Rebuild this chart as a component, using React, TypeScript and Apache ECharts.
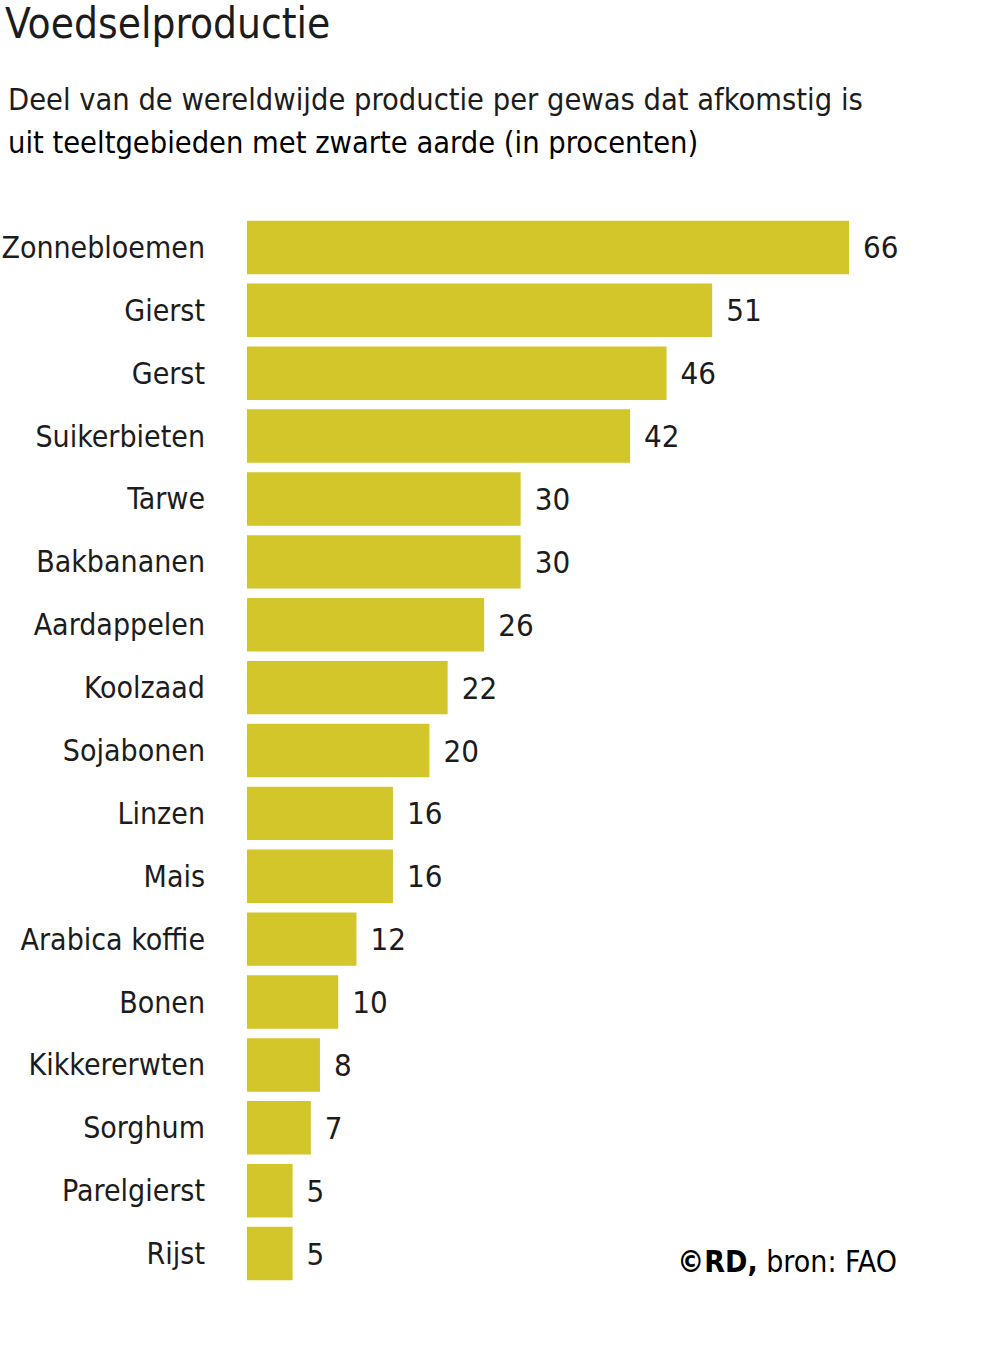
import React, { useEffect, useRef } from "react";
import * as echarts from "echarts";

const categories = [
  "Zonnebloemen", "Gierst", "Gerst", "Suikerbieten", "Tarwe", "Bakbananen",
  "Aardappelen", "Koolzaad", "Sojabonen", "Linzen", "Mais", "Arabica koffie",
  "Bonen", "Kikkererwten", "Sorghum", "Parelgierst", "Rijst",
];
const values = [66, 51, 46, 42, 30, 30, 26, 22, 20, 16, 16, 12, 10, 8, 7, 5, 5];

const titleText = "Voedselproductie";
const subtitle1 = "Deel van de wereldwijde productie per gewas dat afkomstig is";
const subtitle2 = "uit teeltgebieden met zwarte aarde";
const subtitleUnit = "(in procenten)";
const sourceBold = "©RD,";
const sourceText = " bron: FAO";

const FONT = "'DejaVu Sans Condensed', 'Liberation Sans Narrow', 'Noto Sans', sans-serif";
const BAR = "#d3c62a";
const INK = "#1c1c1c";

export default function App() {
  const ref = useRef<HTMLDivElement>(null);
  useEffect(() => {
    if (!ref.current) return;
    const chart = echarts.init(ref.current, null, { renderer: "svg" });
    chart.setOption({
      animation: false,
      backgroundColor: "#ffffff",
      textStyle: { fontFamily: FONT },
      grid: { left: 247, top: 216, width: 602, height: 1069, containLabel: false, outerBoundsMode: "none" },
      xAxis: {
        type: "value", min: 0, max: 66, show: false,
      },
      yAxis: {
        type: "category", data: categories, inverse: true,
        axisLine: { show: false }, axisTick: { show: false },
        axisLabel: { fontSize: 30, color: INK, margin: 42, fontFamily: FONT, padding: [0, 0, 6, 0] },
      },
      series: [{
        type: "bar", data: values, barCategoryGap: "15%",
        itemStyle: { color: BAR },
        label: {
          show: true, position: "right", distance: 14,
          fontSize: 31, color: INK, fontFamily: FONT,
        },
      }],
      graphic: [
        { type: "text", left: 5, top: 2, style: { text: titleText, font: `42px ${FONT}`, fill: INK } },
        { type: "text", left: 8, top: 84, style: { text: subtitle1, font: `30.5px ${FONT}`, fill: INK } },
        {
          type: "text", left: 8, top: 127,
          style: {
            text: `{a|${subtitle2} }{b|${subtitleUnit}}`,
            rich: {
              a: { fontSize: 30.5, fontFamily: FONT, color: INK },
              b: { fontSize: 30.5, fontFamily: FONT, color: "#4a4a4a", fontWeight: 300 },
            },
          },
        },
        {
          type: "text", right: 91, top: 1246,
          style: {
            text: `{a|${sourceBold}}{b|${sourceText}}`,
            rich: {
              a: { fontSize: 30, fontFamily: FONT, fontWeight: "bold", color: INK },
              b: { fontSize: 30, fontFamily: FONT, color: INK },
            },
          },
        },
      ],
    });
    return () => chart.dispose();
  }, []);
  return <div ref={ref} style={{ position: "fixed", left: 0, top: 0, width: 988, height: 1366 }} />;
}
